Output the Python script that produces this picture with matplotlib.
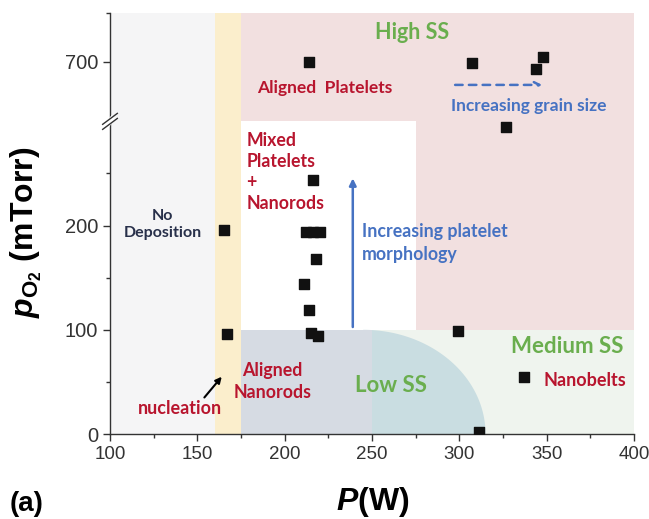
import numpy as np
import matplotlib
matplotlib.use("Agg")
import matplotlib.pyplot as plt
from matplotlib.patches import Rectangle, Polygon

# measured points: sputter power (W) vs oxygen pressure (mTorr)
power = [214, 307, 344, 348, 327, 216, 212, 216, 220, 218, 211, 214, 215, 219, 165, 167, 299, 337, 311]
pressure = [700, 699, 693, 705, 295, 244, 194, 194, 194, 168, 144, 119, 97, 94, 196, 96, 99, 55, 2]

x_ticks = [100, 150, 200, 250, 300, 350, 400]
y_ticks = [0, 100, 200, 700]

# broken y axis: 0..300 then jump to 643..747
LOW_TOP = 300
HIGH_BOTTOM = 643
GAP = HIGH_BOTTOM - LOW_TOP
Y_TOP = 747


def fwd(y):
    y = np.asarray(y, dtype=float)
    return np.where(y <= LOW_TOP, y, np.where(y >= HIGH_BOTTOM, y - GAP, LOW_TOP))


def inv(v):
    v = np.asarray(v, dtype=float)
    return np.where(v <= LOW_TOP, v, v + GAP)


plt.rcParams['mathtext.fontset'] = 'custom'
plt.rcParams['mathtext.it'] = 'Liberation Sans:bold:italic'
plt.rcParams['mathtext.rm'] = 'Liberation Sans:bold'
plt.rcParams['mathtext.bf'] = 'Liberation Sans:bold'

RED = '#b8152e'
GREEN = '#6aae4e'
BLUE = '#4672c2'
ANNO = dict(family='Lato', fontweight='bold')

fig = plt.figure(figsize=(6.49, 5.19), dpi=100)
ax = fig.add_axes([110 / 649, 85 / 519, 524 / 649, 421 / 519])
ax.set_yscale('function', functions=(fwd, inv))
ax.set_xlim(100, 400)
ax.set_ylim(0, Y_TOP)

# background regions
ax.add_patch(Rectangle((100, 0), 60, Y_TOP, color='#f5f5f6', lw=0, zorder=0))
ax.add_patch(Rectangle((160, 0), 15, Y_TOP, color='#fbeecc', lw=0, zorder=0))
ax.add_patch(Rectangle((175, 100), 225, Y_TOP - 100, color='#f2e0e0', lw=0, zorder=0))
ax.add_patch(Rectangle((175, 100), 100, 200, color='white', lw=0, zorder=0.5))
ax.add_patch(Rectangle((250, 0), 150, 100, color='#eff4ee', lw=0, zorder=0))
t = np.linspace(0, np.pi / 2, 60)
ell = np.column_stack([245 + 70 * np.cos(t), 100 * np.sin(t)])
ell = np.vstack([[245, 0], ell])
ax.add_patch(Polygon(ell, closed=True, color='#c9dde1', lw=0, zorder=0.6))
ax.add_patch(Rectangle((175, 0), 75, 100, color='#d6dbe3', lw=0, zorder=0.7))

ax.scatter(power, pressure, marker='s', s=50, color='#111111', zorder=5)

# texts
ax.text(273, 728, 'High SS', color=GREEN, fontsize=15.5, ha='center', va='center', **ANNO)
ax.text(184, 675, 'Aligned  Platelets', color=RED, fontsize=12.5, ha='left', va='center', **ANNO)
ax.text(340, 658, 'Increasing grain size', color=BLUE, fontsize=12.5, ha='center', va='center', **ANNO)
ax.annotate('', xy=(349, 678), xytext=(296, 678),
            arrowprops=dict(arrowstyle='->', color=BLUE, lw=1.8, linestyle=(0, (3, 2.5))))
ax.text(178, 290, 'Mixed\nPlatelets\n+\nNanorods', color=RED, fontsize=12.8, ha='left', va='top',
        linespacing=1.3, **ANNO)
ax.text(130, 201, 'No\nDeposition', color='#28304a', fontsize=11.5, ha='center', va='center',
        linespacing=1.2, **ANNO)
ax.annotate('', xy=(239, 248), xytext=(239, 100),
            arrowprops=dict(arrowstyle='-|>', color=BLUE, lw=1.8, mutation_scale=10))
ax.text(244, 183, 'Increasing platelet\nmorphology', color=BLUE, fontsize=12.8, ha='left', va='center',
        linespacing=1.4, **ANNO)
ax.text(193, 50, 'Aligned\nNanorods', color=RED, fontsize=12.8, ha='center', va='center',
        linespacing=1.35, **ANNO)
ax.text(261, 47, 'Low SS', color=GREEN, fontsize=16, ha='center', va='center', **ANNO)
ax.text(362, 84, 'Medium SS', color=GREEN, fontsize=16, ha='center', va='center', **ANNO)
ax.text(348, 51, 'Nanobelts', color=RED, fontsize=13, ha='left', va='center', **ANNO)
ax.text(140, 24, 'nucleation', color=RED, fontsize=13, ha='center', va='center', **ANNO)
ax.annotate('', xy=(165, 57), xytext=(153, 33),
            arrowprops=dict(arrowstyle='-|>', color='black', lw=1.5, mutation_scale=9))

# axes styling
for s in ['top', 'right']:
    ax.spines[s].set_visible(False)
for s in ['left', 'bottom']:
    ax.spines[s].set_color('#333333')
    ax.spines[s].set_linewidth(1.0)
ax.set_xticks(x_ticks)
ax.set_xticks([125, 175, 225, 275, 325, 375], minor=True)
ax.set_yticks(y_ticks)
ax.set_yticks([50, 150, 250, Y_TOP], minor=True)
ax.set_yticklabels([str(v) for v in y_ticks])
ax.tick_params(which='major', direction='out', length=5, width=1, color='#333333',
               labelsize=13.5, labelcolor='#333333')
ax.tick_params(axis='y', which='major', labelsize=14.5)
ax.tick_params(which='minor', direction='out', length=3, width=1, color='#333333')
for lab in ax.get_xticklabels() + ax.get_yticklabels():
    lab.set_family('Liberation Sans')

# break marks on the y axis
yb = fwd(LOW_TOP + 2) / fwd(Y_TOP)
ax.plot([-0.004, 0.004], [yb - 0.006, yb + 0.006], transform=ax.transAxes, color='white',
        lw=4, clip_on=False, zorder=6)
for off in (-0.006, 0.006):
    ax.plot([-0.014, 0.014], [yb + off - 0.013, yb + off + 0.013], transform=ax.transAxes,
            color='#333333', lw=1, clip_on=False, zorder=7)

ax.set_xlabel(r'$P$(W)', fontsize=23, family='Liberation Sans', fontweight='bold')
ax.xaxis.set_label_coords(0.501, -0.12)
ax.set_ylabel(r'$p_{\mathrm{O_2}}$ (mTorr)', fontsize=23, family='Liberation Sans', fontweight='bold')
ax.yaxis.set_label_coords(-0.125, 0.478)

fig.text(0.015, 0.004, '(a)', fontsize=20, fontweight='bold', family='Liberation Sans', va='bottom')

fig.savefig('out.png', dpi=100)
